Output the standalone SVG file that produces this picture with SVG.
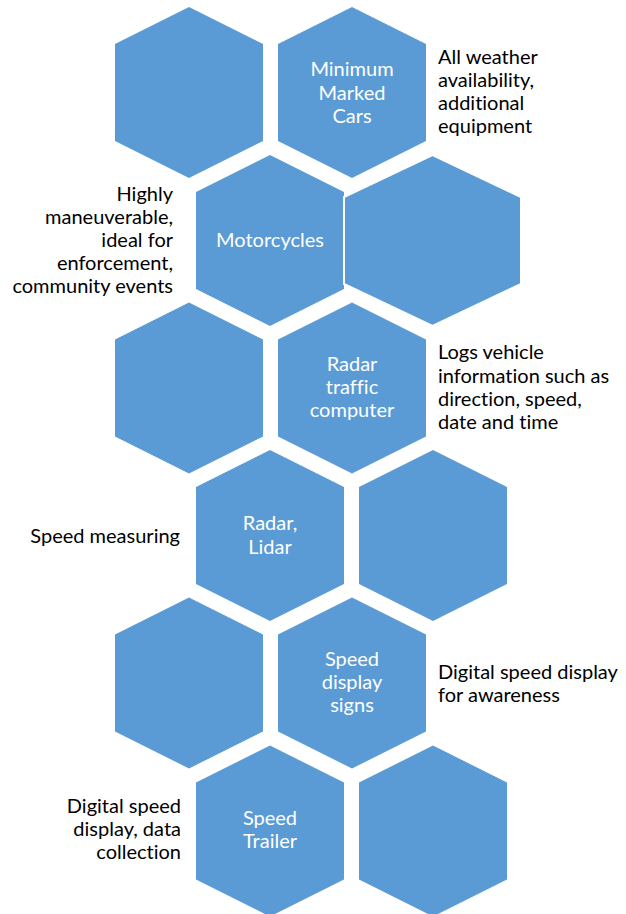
<svg xmlns="http://www.w3.org/2000/svg" xmlns:xlink="http://www.w3.org/1999/xlink" width="626" height="914" viewBox="0 0 626 914">
  <style>
    .hex { fill: #5B9BD5; }
    .wide { fill: #5B9BD5; stroke: #FFFFFF; stroke-width: 2; }
    text { font-family: Lato, Carlito, "Liberation Sans", sans-serif; font-size: 20px; font-variant-ligatures: none; }
    .in { fill: #FFFFFF; text-anchor: middle; }
    .out { fill: #000000; }
    .r { text-anchor: end; }
  </style>
  <defs>
    <path id="hexshape" d="M0,0 L74,37 L74,134 L0,171 L-74,134 L-74,37 Z"/>
  </defs>
  <rect width="626" height="914" fill="#FFFFFF"/>

  <!-- Row 1 -->
  <g id="hex-r1-left"><use xlink:href="#hexshape" href="#hexshape" class="hex" x="189" y="7"/></g>
  <g id="node-minimum-marked-cars">
    <use xlink:href="#hexshape" href="#hexshape" class="hex" x="352" y="7"/>
    <text class="in" x="352" y="76">Minimum</text>
    <text class="in" x="352" y="99.5">Marked</text>
    <text class="in" x="352" y="123">Cars</text>
  </g>
  <g id="label-minimum-marked-cars">
    <text class="out" x="438" y="64">All weather</text>
    <text class="out" x="438" y="87">availability,</text>
    <text class="out" x="438" y="110">additional</text>
    <text class="out" x="438" y="133">equipment</text>
  </g>

  <!-- Row 2 -->
  <g id="node-motorcycles">
    <use xlink:href="#hexshape" href="#hexshape" class="hex" x="270" y="155"/>
    <text class="in" x="270" y="247">Motorcycles</text>
  </g>
  <g id="hex-r2-right">
    <path class="wide" d="M432.5,155 L521,197 L521,284 L432.5,326 L344,284 L344,197 Z"/>
  </g>
  <g id="label-motorcycles">
    <text class="out r" x="173" y="201">Highly</text>
    <text class="out r" x="173" y="224">maneuverable,</text>
    <text class="out r" x="173" y="247">ideal for</text>
    <text class="out r" x="173" y="270">enforcement,</text>
    <text class="out r" x="173" y="293">community events</text>
  </g>

  <!-- Row 3 -->
  <g id="hex-r3-left"><use xlink:href="#hexshape" href="#hexshape" class="hex" x="189" y="302.5"/></g>
  <g id="node-radar-traffic-computer">
    <use xlink:href="#hexshape" href="#hexshape" class="hex" x="352" y="302.5"/>
    <text class="in" x="352" y="371">Radar</text>
    <text class="in" x="352" y="394">traffic</text>
    <text class="in" x="352" y="417">computer</text>
  </g>
  <g id="label-radar-traffic-computer">
    <text class="out" x="438" y="359">Logs vehicle</text>
    <text class="out" x="438" y="382.5">information such as</text>
    <text class="out" x="438" y="406">direction, speed,</text>
    <text class="out" x="438" y="429">date and time</text>
  </g>

  <!-- Row 4 -->
  <g id="node-radar-lidar">
    <use xlink:href="#hexshape" href="#hexshape" class="hex" x="270" y="450"/>
    <text class="in" x="270" y="530">Radar,</text>
    <text class="in" x="270" y="553.5">Lidar</text>
  </g>
  <g id="hex-r4-right"><use xlink:href="#hexshape" href="#hexshape" class="hex" x="433" y="450"/></g>
  <g id="label-radar-lidar">
    <text class="out r" x="180" y="542.5">Speed measuring</text>
  </g>

  <!-- Row 5 -->
  <g id="hex-r5-left"><use xlink:href="#hexshape" href="#hexshape" class="hex" x="189" y="597.5"/></g>
  <g id="node-speed-display-signs">
    <use xlink:href="#hexshape" href="#hexshape" class="hex" x="352" y="597.5"/>
    <text class="in" x="352" y="665.5">Speed</text>
    <text class="in" x="352" y="688.5">display</text>
    <text class="in" x="352" y="711.5">signs</text>
  </g>
  <g id="label-speed-display-signs">
    <text class="out" x="438" y="679">Digital speed display</text>
    <text class="out" x="438" y="701.5">for awareness</text>
  </g>

  <!-- Row 6 -->
  <g id="node-speed-trailer">
    <use xlink:href="#hexshape" href="#hexshape" class="hex" x="270" y="745.5"/>
    <text class="in" x="270" y="825">Speed</text>
    <text class="in" x="270" y="848">Trailer</text>
  </g>
  <g id="hex-r6-right"><use xlink:href="#hexshape" href="#hexshape" class="hex" x="433" y="745.5"/></g>
  <g id="label-speed-trailer">
    <text class="out r" x="181" y="813">Digital speed</text>
    <text class="out r" x="181" y="836">display, data</text>
    <text class="out r" x="181" y="859">collection</text>
  </g>

  <g id="connectors"></g>
</svg>
